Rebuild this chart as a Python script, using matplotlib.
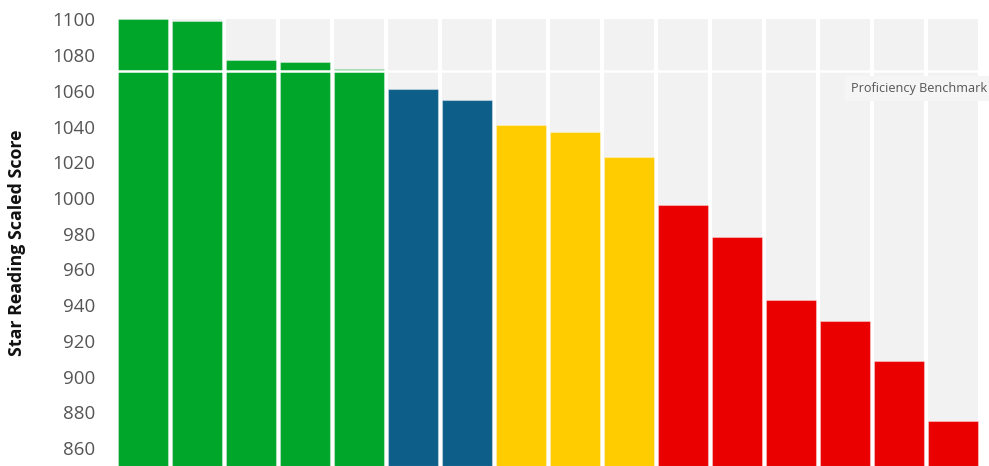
import matplotlib
matplotlib.use("Agg")
import matplotlib.pyplot as plt

# Scaled scores per student, highest to lowest, with their performance band
scores = [1100, 1099, 1077, 1076, 1072, 1061, 1055, 1041, 1037, 1023,
          996, 978, 943, 931, 909, 875]
bands = ["green"] * 5 + ["blue"] * 2 + ["yellow"] * 3 + ["red"] * 6
band_colors = {"green": "#00a62a", "blue": "#0d5f8a",
               "yellow": "#ffcc00", "red": "#eb0000"}
benchmark = 1071
benchmark_label = "Proficiency Benchmark"
y_ticks = [860, 880, 900, 920, 940, 960, 980, 1000, 1020, 1040, 1060, 1080, 1100]
y_label = "Star Reading Scaled Score"
y_min, y_max = 850, 1100

fig = plt.figure(figsize=(9.89, 4.66), dpi=100)
ax = fig.add_axes([116 / 989, 0.0, (980 - 116) / 989, 1 - 19.3 / 466])

x = list(range(len(scores)))
width = 0.913

# light grey column behind each bar, running up to the top of the scale
ax.bar(x, [y_max - y_min] * len(x), bottom=y_min, width=width,
       color="#f2f2f2", linewidth=0, zorder=1)
ax.bar(x, [s - y_min for s in scores], bottom=y_min, width=width,
       color=[band_colors[b] for b in bands], linewidth=0.8,
       edgecolor=(1, 1, 1, 0.35), zorder=2)

ax.axhline(benchmark, color="white", linewidth=1.8, zorder=3)

ax.text(15.63, 1061.3, benchmark_label, ha="right", va="center",
        fontsize=9.1, family="Open Sans", color="#555555", zorder=4,
        clip_on=False,
        bbox=dict(boxstyle="square,pad=0.45", facecolor="#f5f5f5",
                  edgecolor="none"))

ax.set_xlim(-0.5, len(scores) - 0.5)
ax.set_ylim(y_min, y_max)
ax.set_yticks(y_ticks)
ax.set_yticklabels([str(t) for t in y_ticks], family="Open Sans",
                   fontsize=13.5, color="#555555")
for lab in ax.get_yticklabels():
    lab.set_clip_on(False)
ax.tick_params(axis="y", length=0, pad=15)
ax.set_xticks([])
for sp in ax.spines.values():
    sp.set_visible(False)

fig.text(17 / 989, 1 - 243 / 466, y_label, rotation=90, ha="center",
         va="center", family="Open Sans", fontweight="bold", fontsize=12.8,
         color="#111111")

fig.savefig("out.png", dpi=100)
